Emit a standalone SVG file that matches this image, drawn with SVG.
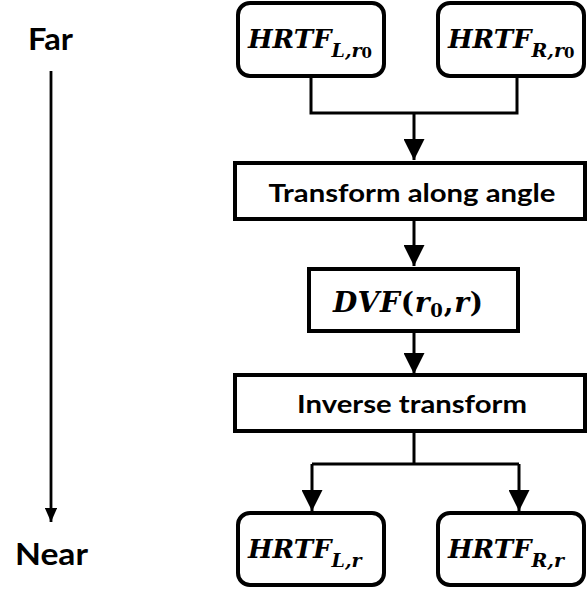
<svg xmlns="http://www.w3.org/2000/svg" width="587" height="589" viewBox="0 0 587 589">
<style>
.box{fill:#fff;stroke:#000;stroke-width:4}
.ln{fill:none;stroke:#000;stroke-width:3}
.lbl{font-family:"Lato","Open Sans","Liberation Sans",sans-serif;font-weight:bold;fill:#000}
.math{font-family:"DejaVu Serif","Liberation Serif",serif;font-style:italic;font-weight:bold;fill:#000}
.up{font-style:normal}
</style>
<defs>
<marker id="ah" markerWidth="7" markerHeight="7" refX="7" refY="3.5" orient="auto" markerUnits="strokeWidth">
<path d="M0,0 L7,3.5 L0,7 Z" fill="#000"/>
</marker>
<marker id="ah2" markerWidth="5" markerHeight="4.4" refX="5" refY="2.2" orient="auto" markerUnits="strokeWidth">
<path d="M0,0 L5,2.2 L0,4.4 Z" fill="#000"/>
</marker>
</defs>
<g id="connectors">
<path class="ln" d="M311,77 V113 H517 V77"/>
<path class="ln" d="M414,113 V160" marker-end="url(#ah)"/>
<path class="ln" d="M414,219 V266" marker-end="url(#ah)"/>
<path class="ln" d="M414,331 V374" marker-end="url(#ah)"/>
<path class="ln" d="M414,431 V464"/>
<path class="ln" d="M312,464 H519"/>
<path class="ln" d="M312,464 V511" marker-end="url(#ah)"/>
<path class="ln" d="M519,464 V511" marker-end="url(#ah)"/>
<path class="ln" style="stroke-width:2.8" d="M51,71 V522" marker-end="url(#ah2)"/>
</g>
<g id="far"><text class="lbl" x="28" y="50" font-size="31" textLength="45" lengthAdjust="spacingAndGlyphs">Far</text></g>
<g id="near"><text class="lbl" x="15" y="565" font-size="31" textLength="73" lengthAdjust="spacingAndGlyphs">Near</text></g>
<g id="hrtf_l_r0">
<rect class="box" x="238" y="3" width="146" height="73" rx="12"/>
<text class="math" x="248" y="48" font-size="26">HRTF<tspan font-size="19" dy="9">L,r</tspan><tspan class="up" font-size="15" dy="1">0</tspan></text>
</g>
<g id="hrtf_r_r0">
<rect class="box" x="438" y="3" width="146" height="73" rx="12"/>
<text class="math" x="448" y="48" font-size="26">HRTF<tspan font-size="19" dy="9">R,r</tspan><tspan class="up" font-size="15" dy="1">0</tspan></text>
</g>
<g id="transform">
<rect class="box" x="235" y="163" width="350" height="56"/>
<text class="lbl" x="412" y="202" font-size="24" text-anchor="middle" textLength="287" lengthAdjust="spacingAndGlyphs">Transform along angle</text>
</g>
<g id="dvf">
<rect class="box" x="309" y="269" width="209" height="62"/>
<text class="math" x="333" y="312" font-size="28" textLength="150" lengthAdjust="spacing">DVF<tspan class="up">(</tspan>r<tspan class="up" font-size="18" dy="5">0</tspan><tspan class="up" dy="-5">,</tspan>r<tspan class="up">)</tspan></text>
</g>
<g id="inverse">
<rect class="box" x="235" y="375" width="350" height="56"/>
<text class="lbl" x="412" y="413" font-size="24" text-anchor="middle" textLength="230" lengthAdjust="spacingAndGlyphs">Inverse transform</text>
</g>
<g id="hrtf_l_r">
<rect class="box" x="238" y="513" width="146" height="72" rx="12"/>
<text class="math" x="248" y="558" font-size="26">HRTF<tspan font-size="19" dy="9">L,r</tspan></text>
</g>
<g id="hrtf_r_r">
<rect class="box" x="438" y="513" width="146" height="72" rx="12"/>
<text class="math" x="448" y="558" font-size="26">HRTF<tspan font-size="19" dy="9">R,r</tspan></text>
</g>
</svg>
